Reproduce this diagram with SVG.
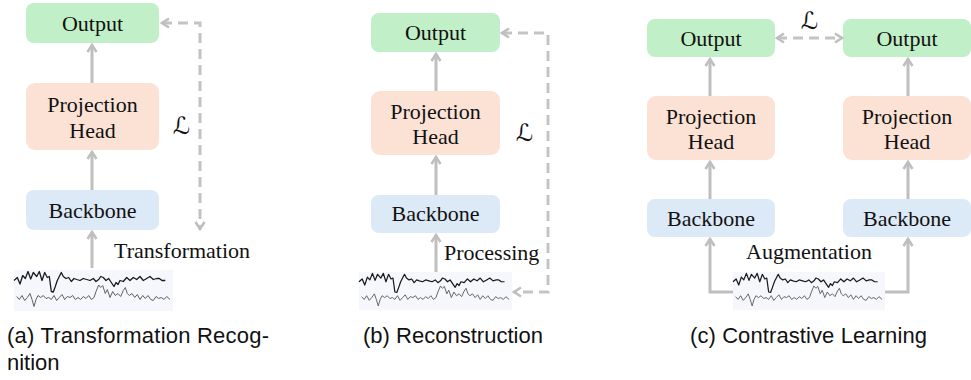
<svg xmlns="http://www.w3.org/2000/svg" xmlns:xlink="http://www.w3.org/1999/xlink" width="971" height="380" viewBox="0 0 971 380">
<style>
.out{fill:#c1efc8}
.proj{fill:#fbe2d5}
.bb{fill:#dce9f6}
.t{font-family:"Liberation Serif","Times New Roman",serif;font-size:22px;fill:#111;text-anchor:middle}
.lbl{font-family:"Liberation Serif","Times New Roman",serif;font-size:22px;fill:#111}
.loss{font-family:"DejaVu Serif","DejaVu Sans",serif;font-size:24px;fill:#111}
.cap{font-family:"Liberation Sans",Arial,sans-serif;font-size:22px;fill:#111}
.arr{fill:none;stroke:#bfbfbf;stroke-width:3;marker-end:url(#ah)}
.dash{fill:none;stroke:#c4c4c4;stroke-width:3;stroke-dasharray:10,6;marker-start:url(#ah);marker-end:url(#ah)}
</style>
<defs>
<marker id="ah" viewBox="0 0 12 12" refX="10" refY="6" markerWidth="12" markerHeight="12" markerUnits="userSpaceOnUse" orient="auto-start-reverse">
<path d="M3,1.5 L10,6 L3,10.5" fill="none" stroke="#bfbfbf" stroke-width="2.6" stroke-linejoin="miter"/>
</marker>
<g id="wave">
<rect x="0" y="0" width="159" height="41" fill="#f5f7fd"/>
<polyline fill="none" stroke="#1a1a1a" stroke-width="1.3" stroke-linejoin="round" points="0,10.5 3.3,7.5 6,14 8.7,5.5 11.3,8.5 14,1.5 16.7,9 19.3,2.5 22.7,6.5 25.3,1.5 28,10.5 30.7,2.5 33.3,7.5 35.3,6.5 37.3,21.5 39.3,22 41.3,16.5 43.3,10.5 45.3,6.5 47.3,2.5 49.3,6.5 52,8.5 54.7,7.5 57.3,11.5 60,8.5 62.7,9.5 66,10.5 69.3,8.5 72.7,9.5 76,10.5 79.3,8.5 82,11.5 84.7,9.5 86.7,6.5 89.3,7.5 92,10.5 94.7,8.5 97.3,12.5 100,16.5 102,12.5 104,14.5 106,10.5 109.3,11.5 112.7,7.5 116,10.5 119.3,7.5 122.7,9.5 126,6.5 129.3,10.5 132.7,8.5 136,6.5 139.3,9.5 142.7,8.5 145.3,8.5 148,10.5 151.3,10.5"/>
<polyline fill="none" stroke="#606060" stroke-width="1" stroke-linejoin="round" points="2.7,26.5 5.3,29.5 8,25.5 10.7,30.5 13.3,27.5 16,23.5 18,29.5 20,36.5 22,29.5 24,25.5 26.7,27.5 29.3,25.5 32,28.5 34.7,27.5 37.3,29.5 40,25.5 42.7,30.5 45.3,27.5 48,24.5 50.7,29.5 53.3,26.5 56,27.5 58.7,25.5 61.3,29.5 64,27.5 66.7,29.5 69.3,26.5 72,28.5 74.7,25.5 77.3,29.5 80,27.5 82,21.5 84.7,15 86.7,17.5 88.7,15.5 91.3,23.5 93.3,19.5 96,27.5 98.7,21.5 101.3,25.5 104,23.5 106.7,26.5 109.3,20.5 111.3,17.5 113.3,23.5 115.3,25.5 118,23.5 120.7,27.5 123.3,24.5 126,29.5 128.7,25.5 131.3,28.5 134,25.5 136.7,29.5 139.3,30.5 142,26.5 144.7,28.5 147.3,27.5 150,29.5 152.7,26.5 156,29.5"/>
</g>
</defs>

<!-- Panel (a) -->
<g id="a-output"><rect class="out" x="26" y="3" width="133" height="40" rx="8"/><text class="t" x="92.5" y="31">Output</text></g>
<g id="a-proj"><rect class="proj" x="26" y="83" width="133" height="67" rx="9"/><text class="t" x="92.5" y="112">Projection</text><text class="t" x="92.5" y="138">Head</text></g>
<g id="a-backbone"><rect class="bb" x="26" y="190" width="133" height="40" rx="8"/><text class="t" x="92.5" y="218">Backbone</text></g>
<g id="a-signal"><use xlink:href="#wave" href="#wave" transform="translate(14,270)"/></g>
<text class="lbl" x="114" y="258">Transformation</text>
<text class="loss" x="173" y="134">ℒ</text>

<!-- Panel (b) -->
<g id="b-output"><rect class="out" x="371" y="13" width="129" height="39" rx="8"/><text class="t" x="435.5" y="40">Output</text></g>
<g id="b-proj"><rect class="proj" x="371" y="91" width="129" height="64" rx="9"/><text class="t" x="435.5" y="119">Projection</text><text class="t" x="435.5" y="144">Head</text></g>
<g id="b-backbone"><rect class="bb" x="371" y="195" width="129" height="38" rx="8"/><text class="t" x="435.5" y="221">Backbone</text></g>
<g id="b-signal"><use xlink:href="#wave" href="#wave" transform="translate(359,272) scale(0.962,0.93)"/></g>
<text class="lbl" x="444" y="260">Processing</text>
<text class="loss" x="516" y="141">ℒ</text>

<!-- Panel (c) -->
<g id="c-output1"><rect class="out" x="647" y="19" width="128" height="38" rx="8"/><text class="t" x="711" y="46">Output</text></g>
<g id="c-output2"><rect class="out" x="843" y="19" width="128" height="38" rx="8"/><text class="t" x="907" y="46">Output</text></g>
<g id="c-proj1"><rect class="proj" x="647" y="96" width="128" height="64" rx="9"/><text class="t" x="711" y="124">Projection</text><text class="t" x="711" y="149">Head</text></g>
<g id="c-proj2"><rect class="proj" x="843" y="96" width="128" height="64" rx="9"/><text class="t" x="907" y="124">Projection</text><text class="t" x="907" y="149">Head</text></g>
<g id="c-backbone1"><rect class="bb" x="647" y="199" width="128" height="38" rx="8"/><text class="t" x="711" y="226">Backbone</text></g>
<g id="c-backbone2"><rect class="bb" x="843" y="199" width="128" height="38" rx="8"/><text class="t" x="907" y="226">Backbone</text></g>
<g id="c-signal"><use xlink:href="#wave" href="#wave" transform="translate(733,272) scale(0.956,0.93)"/></g>
<text class="t" x="809" y="259">Augmentation</text>
<text class="loss" x="801" y="29">ℒ</text>

<!-- Connectors -->
<g id="connectors">
<path class="arr" d="M92,83 V45"/>
<path class="arr" d="M92,190 V152"/>
<path class="arr" d="M92,268 V232"/>
<path class="dash" d="M162,23 H200 V229"/>

<path class="arr" d="M436,91 V54"/>
<path class="arr" d="M436,195 V157"/>
<path class="arr" d="M436,272 V235"/>
<path class="dash" d="M502,33 H548 V292 H514"/>

<path class="arr" d="M710,96 V59"/>
<path class="arr" d="M710,199 V162"/>
<path class="arr" d="M733,292 H710 V239"/>
<path class="arr" d="M908,96 V59"/>
<path class="arr" d="M908,199 V162"/>
<path class="arr" d="M885,292 H908 V239"/>
<path class="dash" d="M777,38 H842"/>
</g>

<!-- Captions -->
<text class="cap" x="7" y="343" textLength="262" lengthAdjust="spacing">(a) Transformation Recog-</text>
<text class="cap" x="7" y="370">nition</text>
<text class="cap" x="363" y="343" textLength="180" lengthAdjust="spacing">(b) Reconstruction</text>
<text class="cap" x="690" y="343" textLength="237" lengthAdjust="spacing">(c) Contrastive Learning</text>
</svg>
